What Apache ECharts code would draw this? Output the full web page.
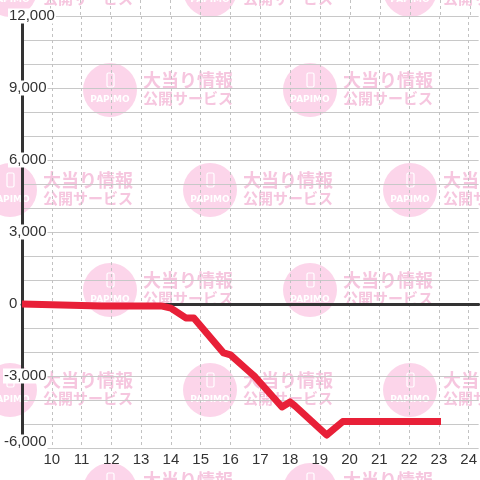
<!DOCTYPE html>
<html>
<head>
<meta charset="utf-8">
<title>chart</title>
<script src="https://cdn.jsdelivr.net/npm/echarts@6.0.0/dist/echarts.min.js"></script>
<style>
  html, body { margin: 0; padding: 0; background: #fff; }
  #chart { width: 480px; height: 480px; }
</style>
</head>
<body>
<div id="chart"></div>
<script>
// 時刻（横軸）
const times = [9.0, 11.67, 13.67, 14.0, 14.5, 14.77, 15.77, 16.0, 16.57, 16.83, 17.73, 18.0, 18.17, 19.23, 19.77, 23.07]
// 差枚
const values = [0, -80, -80, -170, -580, -580, -2040, -2120, -2750, -3040, -4290, -4080, -4250, -5460, -4900, -4900]
// 軸の範囲
const xMin = 9, xMax = 24.333, xStep = 1
const yMin = -6000, yMax = 12000, yStep = 3000
// 透かしの文字
const wmLogo = 'PAPIMO'
const wmLine1 = '大当り情報'
const wmLine2 = '公開サービス'

const fmt = v => v.toLocaleString('en-US')
const LABEL_FONT = '"Liberation Sans", Arial, sans-serif'
const WM_FONT = '"Noto Sans CJK JP", sans-serif'

// 背景の透かし（タイル状）
function watermark() {
  const els = []
  for (let r = 0; r < 6; r++) {
    const cy = -10 + r * 100
    for (let cx = (r % 2 ? 110 : 10); cx < 520; cx += 200) {
      els.push({
        type: 'group', x: cx, y: cy, silent: true,
        children: [
          { type: 'circle', z: -10, shape: { cx: 0, cy: 0, r: 27 }, style: { fill: '#fcd5ea' } },
          { type: 'rect', z: -10, shape: { x: -3, y: -17, width: 7, height: 14, r: 1.5 },
            style: { fill: 'none', stroke: '#fff', lineWidth: 1.2 } },
          { type: 'text', z: -10, x: 0, y: 10,
            style: { text: wmLogo, fill: '#fff', font: 'bold 9px "DejaVu Sans", sans-serif', align: 'center', verticalAlign: 'middle' } },
          { type: 'text', z: -10, x: 33, y: -10,
            style: { text: wmLine1, fill: '#f6c6df', font: 'bold 18px ' + WM_FONT, verticalAlign: 'middle' } },
          { type: 'text', z: -10, x: 33, y: 8,
            style: { text: wmLine2, fill: '#f6c6df', font: 'bold 15px ' + WM_FONT, verticalAlign: 'middle' } }
        ]
      })
    }
  }
  return els
}

const gridLine = { color: '#c8c8c8', width: 1 }
const dashLine = { color: '#c2c2c2', width: 1, type: [3, 3] }
const labelText = { fontSize: 15, color: '#333', fontFamily: LABEL_FONT, lineHeight: 15 }

const chart = echarts.init(document.getElementById('chart'))
chart.setOption({
  animation: false,
  backgroundColor: '#fff',
  graphic: watermark(),
  grid: [
    { left: 20, right: 0, top: 16, bottom: 32 },
    { left: 20, right: 0, top: 0, height: 16 }
  ],
  xAxis: [
    {
      type: 'value', gridIndex: 0, min: xMin, max: xMax, interval: xStep,
      axisLine: { show: false, onZero: false },
      axisTick: { show: false },
      axisLabel: { showMinLabel: false, showMaxLabel: false, margin: 4, fontSize: 15, color: '#333', fontFamily: LABEL_FONT },
      splitLine: { show: true, showMaxLine: false, lineStyle: dashLine }
    },
    {
      // ゼロの線
      type: 'value', gridIndex: 0, min: xMin, max: xMax,
      axisLine: { show: true, onZero: true, onZeroAxisIndex: 0, lineStyle: { color: '#333', width: 3 } },
      axisTick: { show: false },
      axisLabel: { show: false },
      splitLine: { show: false }
    },
    {
      // 上端の点線
      type: 'value', gridIndex: 1, min: xMin, max: xMax, interval: xStep,
      axisLine: { show: false, onZero: false },
      axisTick: { show: false },
      axisLabel: { show: false },
      splitLine: { show: true, showMinLine: false, showMaxLine: false, lineStyle: dashLine }
    }
  ],
  yAxis: [
    {
      type: 'value', gridIndex: 0, min: yMin, max: yMax, interval: yStep,
      axisLine: { show: true, onZero: false, lineStyle: { color: '#333', width: 3 } },
      axisTick: { show: false },
      minorTick: { show: false, splitNumber: 3 },
      splitLine: { show: true, lineStyle: gridLine },
      minorSplitLine: { show: true, lineStyle: gridLine },
      axisLabel: {
        margin: 19,
        align: 'left',
        fontSize: 15,
        color: '#333',
        fontFamily: LABEL_FONT,
        formatter: function (v) {
          const t = fmt(v)
          if (v === yMin) return '{m|' + t + '}\n{e| }'
          return v < 0 ? '{n|' + t + '}' : '{s| }{n|' + t + '}'
        },
        rich: {
          s: Object.assign({ width: 5 }, labelText),
          n: Object.assign({ backgroundColor: '#fff', padding: [0, 1] }, labelText),
          m: Object.assign({ backgroundColor: '#fff', padding: [0, 1, 3, 1] }, labelText),
          e: { lineHeight: 9, fontSize: 8 }
        }
      }
    },
    { type: 'value', gridIndex: 1, min: 0, max: 1, show: false }
  ],
  series: [
    {
      type: 'line',
      xAxisIndex: 0,
      yAxisIndex: 0,
      data: times.map((t, i) => [t, values[i]]),
      symbol: 'none',
      z: 5,
      lineStyle: { color: '#e82038', width: 7, join: 'round' }
    }
  ]
})
</script>
</body>
</html>
